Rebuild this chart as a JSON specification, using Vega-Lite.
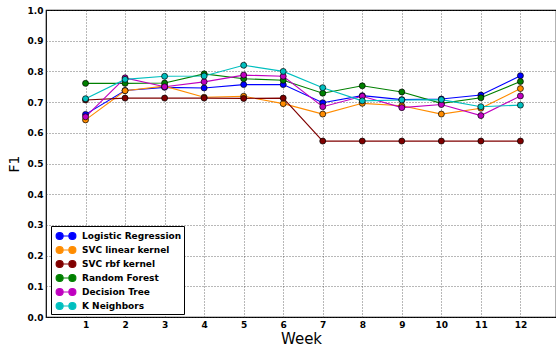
{
  "$schema": "https://vega.github.io/schema/vega-lite/v6.json",
  "width": 510,
  "height": 307,
  "autosize": "none",
  "padding": {"left": 46, "top": 10, "right": 0, "bottom": 35},
  "background": "white",
  "config": {
    "font": "DejaVu Sans",
    "view": {"stroke": "black", "strokeWidth": 1.2}
  },
  "data": {
    "values": [
      {"week": 1, "model": "Logistic Regression", "f1": 0.660},
      {"week": 2, "model": "Logistic Regression", "f1": 0.738},
      {"week": 3, "model": "Logistic Regression", "f1": 0.748},
      {"week": 4, "model": "Logistic Regression", "f1": 0.746},
      {"week": 5, "model": "Logistic Regression", "f1": 0.757},
      {"week": 6, "model": "Logistic Regression", "f1": 0.757},
      {"week": 7, "model": "Logistic Regression", "f1": 0.698},
      {"week": 8, "model": "Logistic Regression", "f1": 0.721},
      {"week": 9, "model": "Logistic Regression", "f1": 0.708},
      {"week": 10, "model": "Logistic Regression", "f1": 0.710},
      {"week": 11, "model": "Logistic Regression", "f1": 0.723},
      {"week": 12, "model": "Logistic Regression", "f1": 0.786},
      {"week": 1, "model": "SVC linear kernel", "f1": 0.642},
      {"week": 2, "model": "SVC linear kernel", "f1": 0.737},
      {"week": 3, "model": "SVC linear kernel", "f1": 0.752},
      {"week": 4, "model": "SVC linear kernel", "f1": 0.716},
      {"week": 5, "model": "SVC linear kernel", "f1": 0.719},
      {"week": 6, "model": "SVC linear kernel", "f1": 0.695},
      {"week": 7, "model": "SVC linear kernel", "f1": 0.661},
      {"week": 8, "model": "SVC linear kernel", "f1": 0.696},
      {"week": 9, "model": "SVC linear kernel", "f1": 0.688},
      {"week": 10, "model": "SVC linear kernel", "f1": 0.661},
      {"week": 11, "model": "SVC linear kernel", "f1": 0.680},
      {"week": 12, "model": "SVC linear kernel", "f1": 0.744},
      {"week": 1, "model": "SVC rbf kernel", "f1": 0.707},
      {"week": 2, "model": "SVC rbf kernel", "f1": 0.713},
      {"week": 3, "model": "SVC rbf kernel", "f1": 0.713},
      {"week": 4, "model": "SVC rbf kernel", "f1": 0.713},
      {"week": 5, "model": "SVC rbf kernel", "f1": 0.712},
      {"week": 6, "model": "SVC rbf kernel", "f1": 0.713},
      {"week": 7, "model": "SVC rbf kernel", "f1": 0.573},
      {"week": 8, "model": "SVC rbf kernel", "f1": 0.573},
      {"week": 9, "model": "SVC rbf kernel", "f1": 0.573},
      {"week": 10, "model": "SVC rbf kernel", "f1": 0.573},
      {"week": 11, "model": "SVC rbf kernel", "f1": 0.573},
      {"week": 12, "model": "SVC rbf kernel", "f1": 0.573},
      {"week": 1, "model": "Random Forest", "f1": 0.761},
      {"week": 2, "model": "Random Forest", "f1": 0.761},
      {"week": 3, "model": "Random Forest", "f1": 0.762},
      {"week": 4, "model": "Random Forest", "f1": 0.792},
      {"week": 5, "model": "Random Forest", "f1": 0.776},
      {"week": 6, "model": "Random Forest", "f1": 0.771},
      {"week": 7, "model": "Random Forest", "f1": 0.729},
      {"week": 8, "model": "Random Forest", "f1": 0.753},
      {"week": 9, "model": "Random Forest", "f1": 0.733},
      {"week": 10, "model": "Random Forest", "f1": 0.696},
      {"week": 11, "model": "Random Forest", "f1": 0.714},
      {"week": 12, "model": "Random Forest", "f1": 0.767},
      {"week": 1, "model": "Decision Tree", "f1": 0.652},
      {"week": 2, "model": "Decision Tree", "f1": 0.779},
      {"week": 3, "model": "Decision Tree", "f1": 0.750},
      {"week": 4, "model": "Decision Tree", "f1": 0.766},
      {"week": 5, "model": "Decision Tree", "f1": 0.788},
      {"week": 6, "model": "Decision Tree", "f1": 0.784},
      {"week": 7, "model": "Decision Tree", "f1": 0.685},
      {"week": 8, "model": "Decision Tree", "f1": 0.719},
      {"week": 9, "model": "Decision Tree", "f1": 0.682},
      {"week": 10, "model": "Decision Tree", "f1": 0.692},
      {"week": 11, "model": "Decision Tree", "f1": 0.656},
      {"week": 12, "model": "Decision Tree", "f1": 0.720},
      {"week": 1, "model": "K Neighbors", "f1": 0.711},
      {"week": 2, "model": "K Neighbors", "f1": 0.774},
      {"week": 3, "model": "K Neighbors", "f1": 0.784},
      {"week": 4, "model": "K Neighbors", "f1": 0.785},
      {"week": 5, "model": "K Neighbors", "f1": 0.820},
      {"week": 6, "model": "K Neighbors", "f1": 0.800},
      {"week": 7, "model": "K Neighbors", "f1": 0.747},
      {"week": 8, "model": "K Neighbors", "f1": 0.704},
      {"week": 9, "model": "K Neighbors", "f1": 0.707},
      {"week": 10, "model": "K Neighbors", "f1": 0.708},
      {"week": 11, "model": "K Neighbors", "f1": 0.685},
      {"week": 12, "model": "K Neighbors", "f1": 0.690}
    ]
  },
  "encoding": {
    "x": {
      "field": "week",
      "type": "quantitative",
      "scale": {"domain": [0, 12.9], "nice": false, "zero": false},
      "axis": {
        "title": "Week",
        "values": [1, 2, 3, 4, 5, 6, 7, 8, 9, 10, 11, 12],
        "format": "d",
        "labelFont": "DejaVu Sans",
        "labelFontWeight": "bold",
        "labelFontSize": 9,
        "labelColor": "black",
        "labelPadding": 3,
        "ticks": false,
        "domain": false,
        "grid": true,
        "gridColor": "#333333",
        "gridDash": [1, 2],
        "gridWidth": 0.7,
        "titleFont": "DejaVu Sans",
        "titleFontSize": 15,
        "titleFontWeight": "normal",
        "titleColor": "black",
        "titlePadding": 2
      }
    },
    "y": {
      "field": "f1",
      "type": "quantitative",
      "scale": {"domain": [0, 1], "nice": false},
      "axis": {
        "title": "F1",
        "values": [0, 0.1, 0.2, 0.3, 0.4, 0.5, 0.6, 0.7, 0.8, 0.9, 1.0],
        "format": ".1f",
        "labelFont": "DejaVu Sans",
        "labelFontWeight": "bold",
        "labelFontSize": 9,
        "labelColor": "black",
        "labelPadding": 3,
        "ticks": false,
        "domain": false,
        "grid": true,
        "gridColor": "#333333",
        "gridDash": [1, 2],
        "gridWidth": 0.7,
        "titleFont": "DejaVu Sans",
        "titleFontSize": 14,
        "titleFontWeight": "normal",
        "titleColor": "black",
        "titlePadding": 6
      }
    },
    "color": {
      "field": "model",
      "type": "nominal",
      "scale": {
        "domain": ["Logistic Regression", "SVC linear kernel", "SVC rbf kernel", "Random Forest", "Decision Tree", "K Neighbors"],
        "range": ["#0000ff", "#ff8c00", "#800000", "#008000", "#bf00bf", "#00bfbf"]
      },
      "legend": {
        "title": null,
        "orient": "none",
        "legendX": 5,
        "legendY": 216,
        "fillColor": "white",
        "strokeColor": "black",
        "padding": 2,
        "cornerRadius": 0,
        "labelFont": "DejaVu Sans",
        "labelFontWeight": "bold",
        "labelFontSize": 9,
        "labelColor": "black",
        "labelOffset": 8,
        "symbolOffset": 5,
        "symbolType": "M-0.91,0L0.91,0M-0.41,0A0.5,0.5,0,1,1,-1.41,0A0.5,0.5,0,1,1,-0.41,0M1.41,0A0.5,0.5,0,1,1,0.41,0A0.5,0.5,0,1,1,1.41,0",
        "symbolSize": 196,
        "symbolStrokeWidth": 1.2,
        "rowPadding": 0
      }
    }
  },
  "layer": [
    {"mark": {"type": "line", "strokeWidth": 1.1}},
    {"mark": {"type": "circle", "size": 36, "opacity": 1, "stroke": "black", "strokeWidth": 0.7}}
  ]
}
